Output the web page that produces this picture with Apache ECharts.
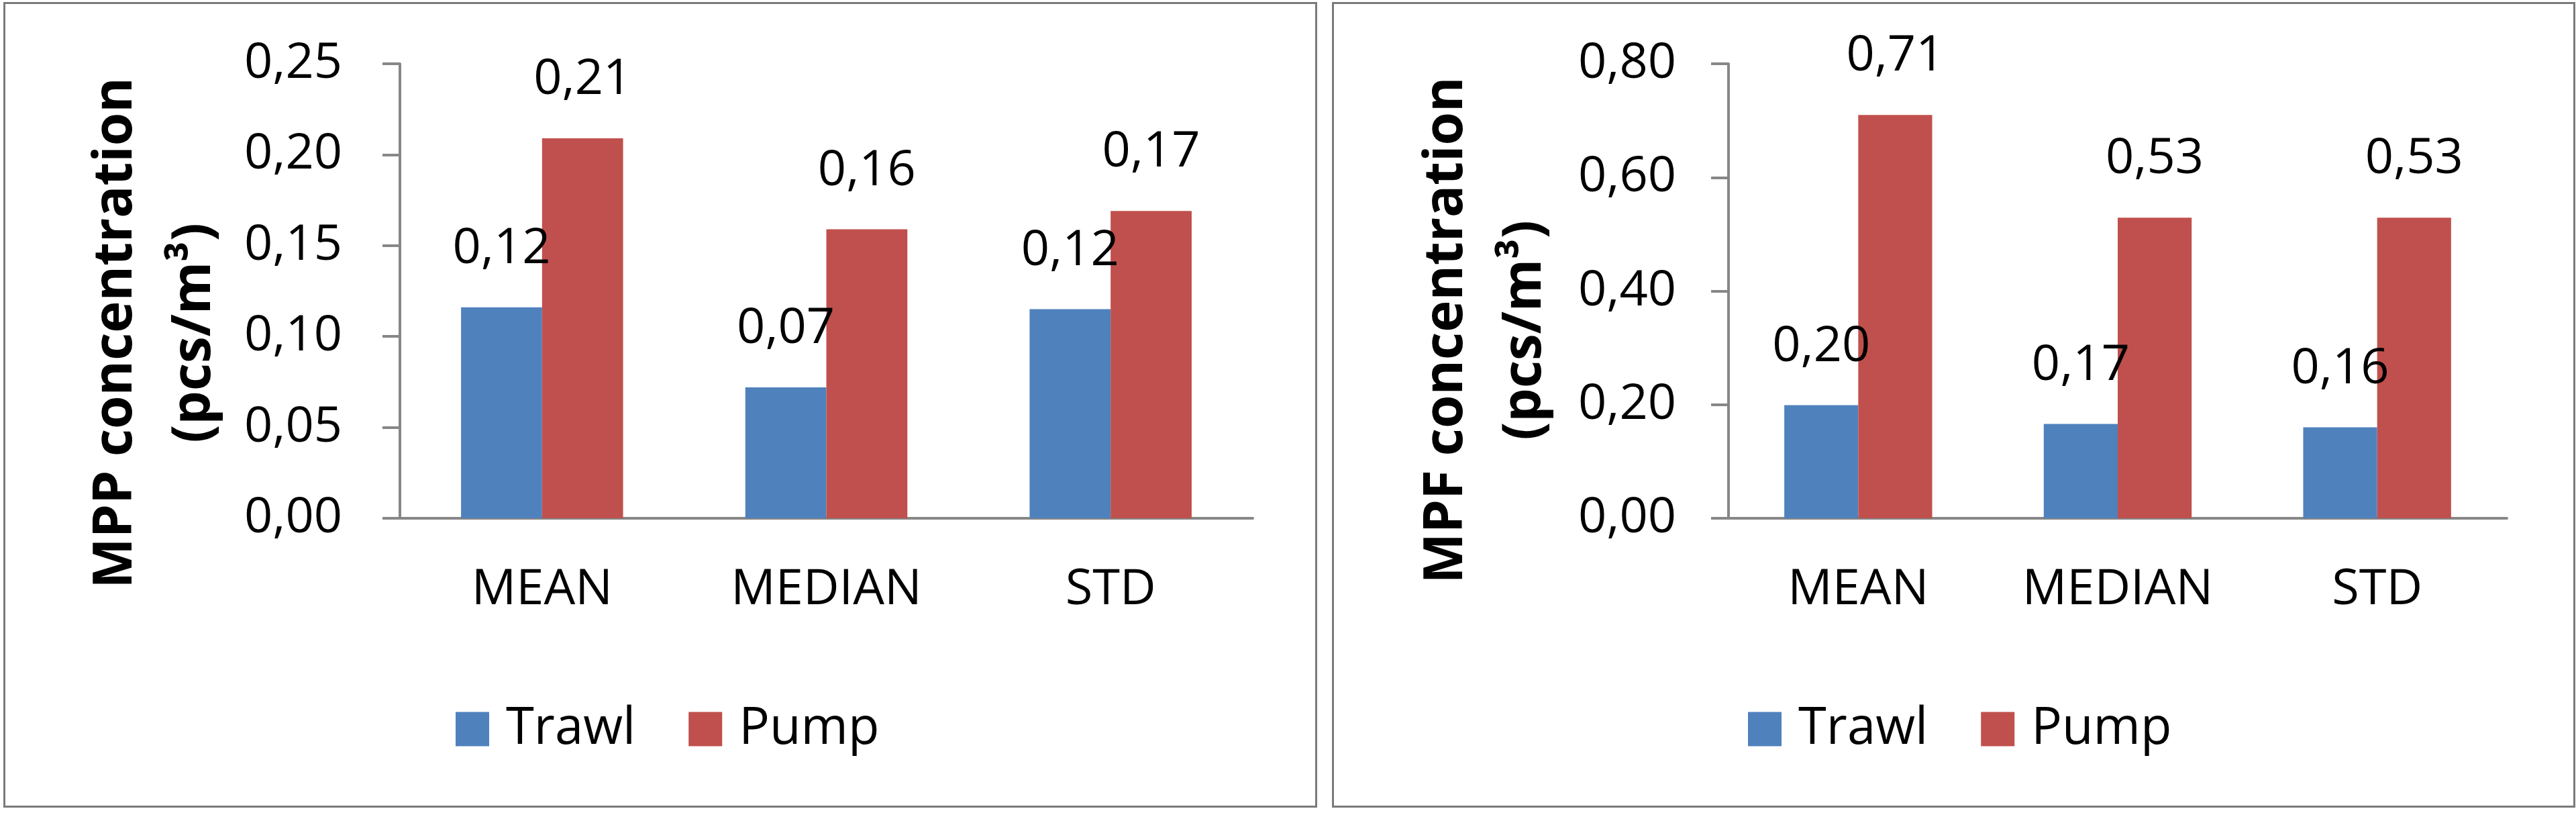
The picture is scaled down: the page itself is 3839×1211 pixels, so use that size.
<!DOCTYPE html>
<html lang="en">
<head>
<meta charset="UTF-8">
<title>MPP / MPF concentration</title>
<script src="https://cdn.jsdelivr.net/npm/echarts@6.0.0/dist/echarts.min.js"></script>
<style>
    body { margin: 0; background: #fff; width: 3839px; height: 1211px; position: relative; overflow: hidden; }
    .panel { position: absolute; top: 3px; height: 1200px; border: 3px solid #7a7a7a; box-sizing: border-box; }
    .panel .chart { width: 100%; height: 100%; }
</style>
</head>
<body>
    <div class="panel" style="left:5px;width:1958px;"><div class="chart" id="chartL"></div></div>
    <div class="panel" style="left:1985px;width:1853px;"><div class="chart" id="chartR"></div></div>
<script>
    // data
    var categories = ['MEAN', 'MEDIAN', 'STD'];
    var seriesNames = ['Trawl', 'Pump'];
    var mppTrawl = [0.116, 0.072, 0.115];
    var mppPump = [0.209, 0.159, 0.169];
    var mpfTrawl = [0.199, 0.166, 0.160];
    var mpfPump = [0.710, 0.529, 0.529];

    var FONT = '"Open Sans", "Liberation Sans", sans-serif';
    var colors = ['#4f81bd', '#c0504d'];

    function fmt(v) {
        return v.toFixed(2).replace('.', ',');
    }

    function makeOption(cfg) {
        var series = [cfg.trawl, cfg.pump].map(function (data, i) {
            return {
                name: seriesNames[i],
                type: 'bar',
                data: data,
                barGap: '0%',
                barCategoryGap: '43%',
                itemStyle: { color: colors[i] },
                label: {
                    show: true,
                    position: 'top',
                    distance: 50,
                    fontFamily: FONT,
                    fontSize: 74,
                    color: '#000',
                    formatter: function (p) { return fmt(p.value); }
                }
            };
        });
        return {
            animation: false,
            textStyle: { fontFamily: FONT },
            grid: { left: 588, right: cfg.right, top: 89, bottom: 428 },
            legend: {
                data: seriesNames,
                left: cfg.legendLeft,
                top: 1037,
                icon: 'rect',
                itemWidth: 50,
                itemHeight: 51,
                itemGap: 79,
                textStyle: { fontFamily: FONT, fontSize: 76, color: '#000', padding: [0, 0, 0, 20] }
            },
            xAxis: {
                type: 'category',
                data: categories,
                axisLine: { lineStyle: { color: '#878787', width: 4 } },
                axisTick: { length: 26, lineStyle: { color: '#878787', width: 4 } },
                axisLabel: { fontFamily: FONT, fontSize: 74, color: '#000', margin: 70 }
            },
            yAxis: {
                type: 'value',
                min: 0,
                max: cfg.max,
                interval: cfg.interval,
                axisLine: { show: true, lineStyle: { color: '#878787', width: 4 } },
                axisTick: { show: true, length: 26, lineStyle: { color: '#878787', width: 4 } },
                splitLine: { show: false },
                axisLabel: {
                    fontFamily: FONT, fontSize: 74, color: '#000', margin: cfg.labelMargin,
                    formatter: function (v) { return fmt(v); }
                }
            },
            graphic: [{
                type: 'text',
                x: cfg.titleX,
                y: cfg.titleY,
                rotation: Math.PI / 2,
                style: {
                    text: cfg.title,
                    fontFamily: FONT,
                    fontWeight: 'bold',
                    fontSize: 80,
                    lineHeight: 117,
                    fill: '#000',
                    align: 'center',
                    verticalAlign: 'middle'
                }
            }],
            series: series
        };
    }

    var chartL = echarts.init(document.getElementById('chartL'));
    chartL.setOption(makeOption({
        trawl: mppTrawl, pump: mppPump,
        max: 0.25, interval: 0.05,
        right: 93, legendLeft: 666, labelMargin: 86,
        title: 'MPP concentration\n(pcs/m³)', titleX: 224, titleY: 490
    }));

    var chartR = echarts.init(document.getElementById('chartR'));
    chartR.setOption(makeOption({
        trawl: mpfTrawl, pump: mpfPump,
        max: 0.8, interval: 0.2,
        right: 99, legendLeft: 612, labelMargin: 78,
        title: 'MPF concentration\n(pcs/m³)', titleX: 227, titleY: 486
    }));
</script>
</body>
</html>
